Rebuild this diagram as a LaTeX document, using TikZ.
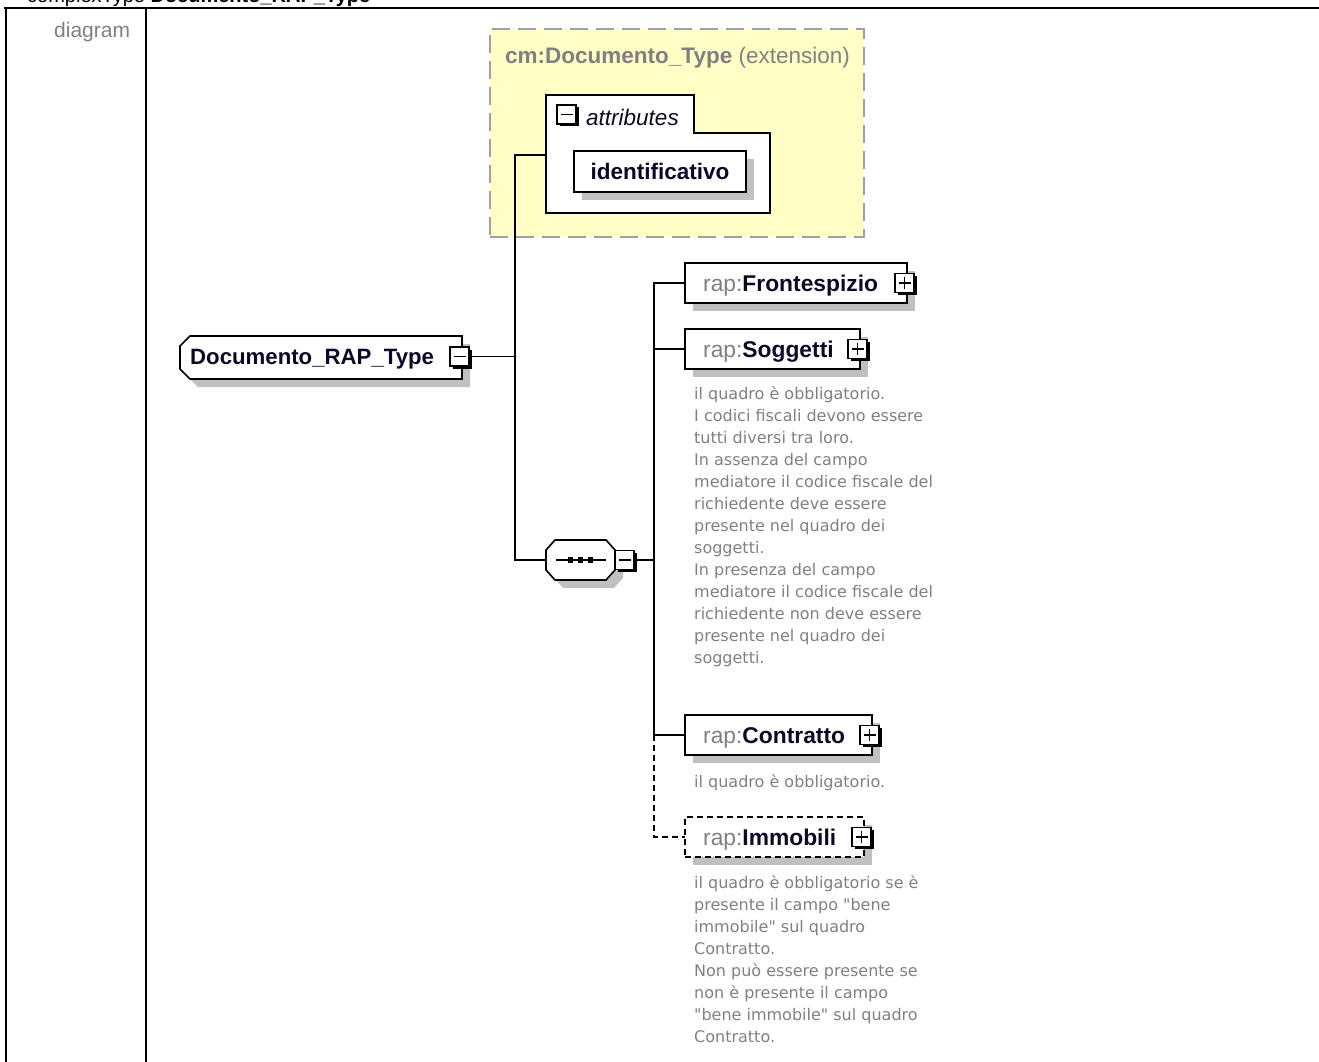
\documentclass[tikz,border=0pt]{standalone}
\usepackage{fontspec}
\setmainfont{Liberation Sans}
\newfontfamily\cmtfont{DejaVu Sans}
\usetikzlibrary{calc,shadows}
\definecolor{shadowgray}{RGB}{192,192,192}
\definecolor{extfill}{RGB}{255,255,198}
\definecolor{extline}{RGB}{160,160,160}
\definecolor{txtgray}{RGB}{128,128,128}
\definecolor{namecol}{RGB}{10,10,40}
\newcommand\pmsq[3]{%
  \fill[black] (#2+2.5,#3+2.5) rectangle (#2+21.5,#3+21.5);
  \node[pmbox] (#1) at (#2+9.5,#3+9.5) {};
  \draw[line width=1.5] ($(#1.center)+(-6,0)$) -- ($(#1.center)+(6,0)$);}
\newcommand\plsq[3]{%
  \pmsq{#1}{#2}{#3}%
  \draw[line width=1.5] ($(#1.center)+(0,-6)$) -- ($(#1.center)+(0,6)$);}
\begin{document}
\begin{tikzpicture}[x=1pt,y=-1pt,
  conn/.style={line width=1.5},
  dconn/.style={line width=1.5, dash pattern=on 6pt off 4pt},
  elem/.style={draw, line width=1.6, fill=white, inner sep=0, outer sep=0,
    drop shadow={shadow xshift=8pt, shadow yshift=-8pt, fill=shadowgray, draw=none, opacity=1}},
  pmbox/.style={draw, line width=1.5, fill=white, minimum size=19, inner sep=0, outer sep=0},
  lbl/.style={font=\fontsize{22.8}{27}\selectfont, inner sep=0, anchor=base west, text=namecol},
  cmt/.style={font=\cmtfont\fontsize{16}{22}\selectfont, text=txtgray, inner sep=0, anchor=north west, align=left}
]
\useasboundingbox (0,0) rectangle (1319,1062);
% header and table
\node[font=\fontsize{20}{24}\selectfont, inner sep=0, anchor=base west] (title) at (27,3) {complexType \textbf{Documento\_RAP\_Type}};
\draw[line width=2.5] (4,8) -- (1319,8);
\draw[line width=2.5] (6,8) -- (6,1062);
\draw[line width=2.5] (146,8) -- (146,1062);
\node[font=\fontsize{21}{24}\selectfont, inner sep=0, anchor=base west, text=txtgray] (diag) at (54,38) {diagram};

% extension box
\node[draw=extline, line width=2, dash pattern=on 18pt off 8pt, fill=extfill, minimum width=374, minimum height=208, inner sep=0] (ext) at (677,133) {};
\node[font=\fontsize{22.5}{27}\selectfont, inner sep=0, anchor=base west, text=txtgray] (extT) at (505,64) {\textbf{cm:Documento\_Type} (extension)};
% attributes group
\draw[line width=1.6, fill=white] (546,95) -- (694,95) -- (694,133) -- (770,133) -- (770,213) -- (546,213) -- cycle;
\coordinate (attrL) at (546,155);
\pmsq{attrpm}{557}{105}
\node[font=\itshape\fontsize{22.5}{27}\selectfont, inner sep=0, anchor=base west, text=namecol] (attrT) at (586,125) {attributes};
\node[elem, minimum width=172, minimum height=41, font=\bfseries\fontsize{22.5}{27}\selectfont, text=namecol] (ident) at (660,171.5) {identificativo};

% root element
\path[draw, line width=1.6, fill=white, drop shadow={shadow xshift=8pt, shadow yshift=-8pt, fill=shadowgray, draw=none, opacity=1}]
  (190,336) -- (462,336) -- (462,379) -- (190,379) -- (180,369) -- (180,346) -- cycle;
\node[lbl, font=\fontsize{22.2}{27}\selectfont] (doc) at (190,364) {\textbf{Documento\_RAP\_Type}};
\pmsq{docpm}{450}{347}

% sequence compositor
\path[draw, line width=1.6, fill=white, drop shadow={shadow xshift=8pt, shadow yshift=-8pt, fill=shadowgray, draw=none, opacity=1}]
  (546,550) -- (555,540) -- (606,540) -- (615,550) -- (615,570) -- (606,580) -- (555,580) -- (546,570) -- cycle;
\node[inner sep=0, minimum width=69, minimum height=40] (seq) at (580.5,560) {};
\draw[line width=1.4] (556,560) -- (606,560);
\foreach \cx in {570.5,580.5,590.5} \fill (\cx-2.8,557.2) rectangle (\cx+2.8,562.8);
\pmsq{seqpm}{615}{550.5}

% children
\node[elem, minimum width=222, minimum height=40] (front) at (796,283) {};
\node[lbl] (frontT) at (703,291) {\textcolor{txtgray}{rap:}\textbf{Frontespizio}};
\plsq{frontpm}{895}{273.5}

\node[elem, minimum width=175, minimum height=40] (sogg) at (772.5,349) {};
\node[lbl] (soggT) at (703,357) {\textcolor{txtgray}{rap:}\textbf{Soggetti}};
\plsq{soggpm}{848}{339.5}

\node[elem, minimum width=187, minimum height=40] (contr) at (778.5,735) {};
\node[lbl] (contrT) at (703,743) {\textcolor{txtgray}{rap:}\textbf{Contratto}};
\plsq{contrpm}{860}{725.5}

\node[elem, dash pattern=on 6pt off 4pt, minimum width=179, minimum height=40] (immo) at (774.5,837) {};
\node[lbl] (immoT) at (703,845) {\textcolor{txtgray}{rap:}\textbf{Immobili}};
\plsq{immopm}{852}{827.5}

% comments
\node[cmt] (soggC) at (694,386) {il quadro è obbligatorio.\\I codici fiscali devono essere\\tutti diversi tra loro.\\In assenza del campo\\mediatore il codice fiscale del\\richiedente deve essere\\presente nel quadro dei\\soggetti.\\In presenza del campo\\mediatore il codice fiscale del\\richiedente non deve essere\\presente nel quadro dei\\soggetti.};
\node[cmt] (contrC) at (694,774) {il quadro è obbligatorio.};
\node[cmt] (immoC) at (694,875) {il quadro è obbligatorio se è\\presente il campo "bene\\immobile" sul quadro\\Contratto.\\Non può essere presente se\\non è presente il campo\\"bene immobile" sul quadro\\Contratto.};

% connectors
\coordinate (lt) at (515,356.5);
\coordinate (rt) at (654,560);
\draw[conn] (docpm.east) -- (lt);
\draw[conn] (attrL) -| (lt) |- (seq.west);
\draw[conn] (seqpm.east) -- (rt);
\draw[conn] (front.west) -| (rt);
\draw[conn] (rt) |- (contr.west);
\draw[conn] (sogg.west) -- (sogg.west -| rt);
\draw[dconn] (contr.west -| rt) |- (immo.west);
\end{tikzpicture}
\end{document}
